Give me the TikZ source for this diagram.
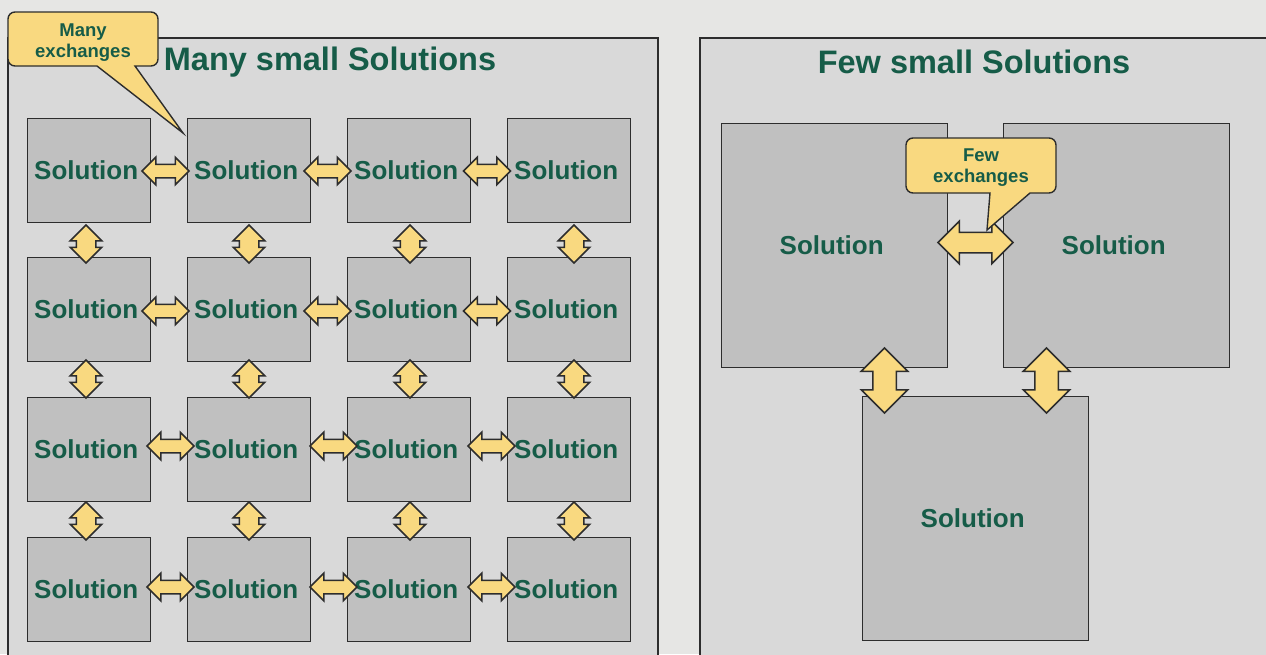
\documentclass[tikz,border=0pt]{standalone}
\usepackage{fontspec}
\setmainfont{Liberation Sans}
\usetikzlibrary{shapes.arrows}

\definecolor{bg}{RGB}{230,230,228}
\definecolor{panelfill}{RGB}{217,217,217}
\definecolor{boxfill}{RGB}{192,192,192}
\definecolor{edge}{RGB}{45,45,45}
\definecolor{ink}{RGB}{22,92,72}
\definecolor{note}{RGB}{249,217,128}

\begin{document}
\begin{tikzpicture}[x=1pt,y=-1pt,
  panel/.style={draw=edge, line width=1.6pt, fill=panelfill},
  title/.style={text=ink, font=\fontsize{32.5}{36}\selectfont\bfseries, anchor=base},
  sol/.style={draw=edge, line width=1.3pt, fill=boxfill, inner sep=0pt,
    text=ink, font=\fontsize{26}{28}\selectfont\bfseries,
    execute at end node={\hspace{6pt}}},
  small/.style={sol, minimum width=123pt, minimum height=104pt},
  big/.style={sol, minimum width=226pt, minimum height=244pt},
  link/.style={double arrow, draw=edge, fill=note, line width=1.5pt,
    double arrow tip angle=90, inner sep=0pt, minimum width=0pt, text depth=0pt},
  hlink/.style={link, text height=12pt, double arrow head extend=7pt, minimum height=47pt},
  vlink/.style={link, rotate=90, text height=18pt, double arrow head extend=6pt, minimum height=38pt},
  bhlink/.style={link, text height=19pt, double arrow head extend=11pt, minimum height=75pt},
  bvlink/.style={link, rotate=90, text height=22pt, double arrow head extend=11.5pt, minimum height=65pt},
  callout/.style={draw=edge, line width=1.4pt, fill=note},
  notetext/.style={text=ink, align=center, font=\fontsize{18.5}{21}\selectfont\bfseries}
]
\useasboundingbox (0,0) rectangle (1266,654);
\clip (0,0) rectangle (1266,654);
\fill[bg] (0,0) rectangle (1266,654);

% two panels
\draw[panel] (8,38) rectangle (658,680);
\draw[panel] (700,38) rectangle (1290,680);

\node[title] (tleft) at (330,70) {Many small Solutions};
\node[title] (tright) at (974,73) {Few small Solutions};

% grid of small solutions
\foreach \c/\x in {1/27,2/187,3/347,4/507}
  \foreach \r/\y in {1/118,2/257,3/397,4/537}
    \node[small, anchor=north west] (s\r\c) at (\x,\y) {Solution};

% horizontal links
\foreach \r/\y/\xa/\xb/\xc in {1/171/165.5/327.5/487, 2/311/165.5/327.5/487,
                               3/446/170.5/333.5/491.5, 4/587/170.5/333.5/491.5} {
  \node[hlink] (h\r a) at (\xa,\y) {};
  \node[hlink] (h\r b) at (\xb,\y) {};
  \node[hlink] (h\r c) at (\xc,\y) {};
}

% vertical links
\foreach \c/\x in {1/86,2/249,3/410,4/574} {
  \node[vlink] (v\c a) at (\x,244) {};
  \node[vlink] (v\c b) at (\x,379) {};
  \node[vlink] (v\c c) at (\x,521) {};
}

% three large solutions
\node[big, anchor=north west] (ba) at (721,123) {Solution};
\node[big, anchor=north west] (bb) at (1003,123) {Solution};
\node[big, anchor=north west] (bc) at (862,396) {Solution};

\node[bhlink] (lab) at (975.5,242.5) {};
\node[bvlink] (lac) at (884.5,380.5) {};
\node[bvlink] (lbc) at (1046.5,380.5) {};

% callouts
\draw[callout] (97,66) -- (183,133) -- (135,66) -- (151,66)
  arc[start angle=90, end angle=0, radius=7] -- (158,19)
  arc[start angle=0, end angle=-90, radius=7] -- (15,12)
  arc[start angle=-90, end angle=-180, radius=7] -- (8,59)
  arc[start angle=180, end angle=90, radius=7] -- cycle;
\node[notetext] (nmany) at (83,43) {Many\\exchanges};

\draw[callout] (990,193) -- (987,230) -- (1030,193) -- (1049,193)
  arc[start angle=90, end angle=0, radius=7] -- (1056,145)
  arc[start angle=0, end angle=-90, radius=7] -- (913,138)
  arc[start angle=-90, end angle=-180, radius=7] -- (906,186)
  arc[start angle=180, end angle=90, radius=7] -- cycle;
\node[notetext] (nfew) at (981,168) {Few\\exchanges};
\end{tikzpicture}
\end{document}
